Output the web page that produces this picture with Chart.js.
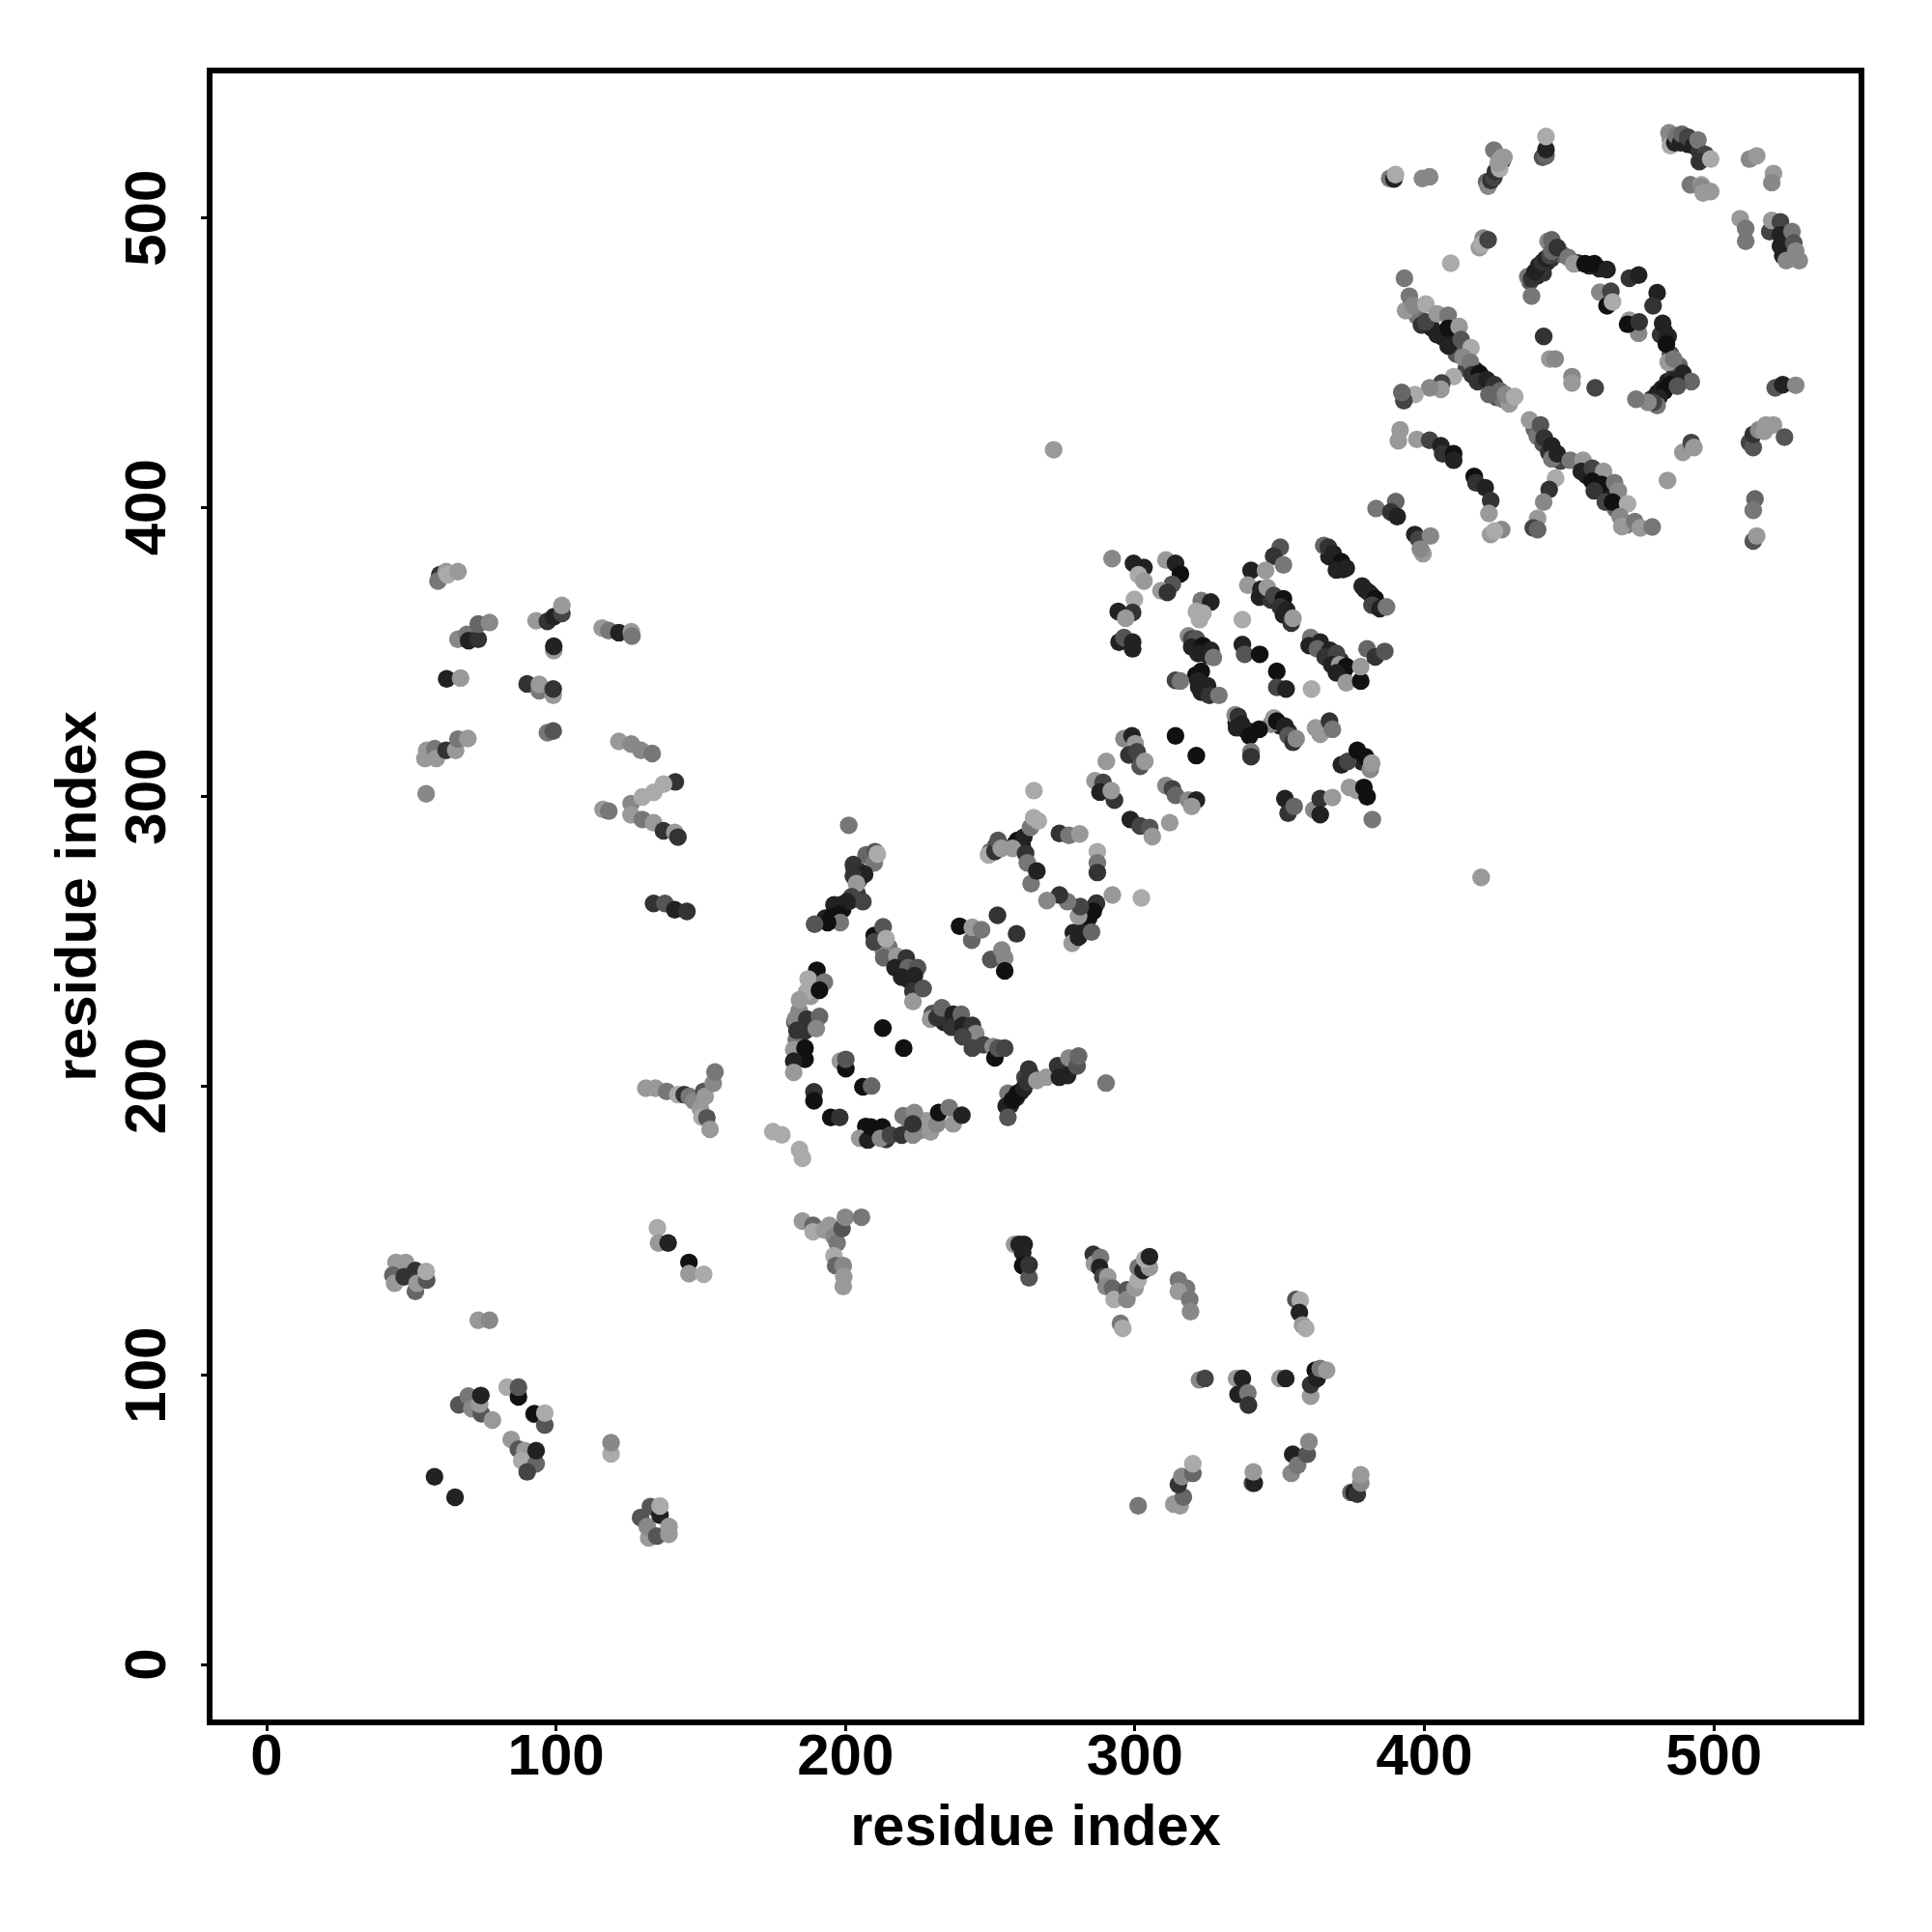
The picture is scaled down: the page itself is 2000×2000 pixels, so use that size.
<!DOCTYPE html>
<html>
<head>
<meta charset="utf-8">
<style>
  html, body { margin: 0; padding: 0; background: #fff; }
  canvas { display: block; }
</style>
<script src="https://cdn.jsdelivr.net/npm/chart.js@4/dist/chart.umd.min.js"></script>
</head>
<body>
<canvas id="contact-map" width="2000" height="2000"></canvas>
<script>
const tickValues = [0, 100, 200, 300, 400, 500];
const axisLabel = 'residue index';

// values, one line per group of contacts
// score runs 0 (weak, light) to 9 (strong, dark)
const resI = [
  482,484,486,488,478.5,480.5,436.5,438.8,440,441.2,442.5,443.8,441,453,457,460.5,447.5,482.8,483.4,485,488,
  397.5,399,402.5,406,410,411,414.5,417.5,420,423,425,427,
  438,439,441,443,447,456,460,463,464,466,470,
  367,370,371.8,379.5,381.8,383.5,
  362,366,368.5,371,372,
  343,347,350,352,
  320,322.5,325,
  322,324,321,
  335,337.5,350,353,347,
  377.5,378.5,
  193,199,201.5,204,203,205,204.5,
  183,182.5,186,184,188,189,
  222,220,224,215,213,
  234,238,241,230,
  259,257,260.5,262,264,276,274.5,
  207,210,214,222,225.5,228,
  261,258.5,283,286,284,282.5,278.7,252,250,
  388,389.5,390,399.3,401.8,
  421.5,422,423,424,424.5,425.5,424,426,427,427,426,425.5,427.5,
  440.8,442,442,442,
  484.5,485,485,486.5,487,488.5,489,491,491,493,495,494.5,497,495,498.9,
  491.9,495.7,495.7,498.9,496.3,
  512.3,514.8,520.6,520,509.1,511,511,
  519.3,520,523,523,527,523,527.6,523.8,525,528.3,529.5,
  420.3,419,419.7,422,409.1,
  437,435.7,437,438.2,439.5,440.8,442,443.3,442.7,444,444,445.9,449.7,451.6,455.5,458.7,463.1,
  470.8,474,460.6,464.4,463.1,465,480.4,479,474,470.8,470.2,474.2,
  481.6,482.3,484.2,483.6,484.2,486.1,489.3,492.2,486.8,484.8,482.9,481,480.4,479.1,477.2,473.1,487.4,
  441.2,443.3,445.2,451,451,459,
  393.1,393.5,394.8,396.1,400.5,400.5,404.4,408.2,404.4,408.2,412,408.2,412.7,416.1,413.3,415.9,416.5,419,418.4,421.6,424.2,422.3,426.1,429.3,428,431.2,
  410.1,406,405.7,401.8,396.7,392.9,392.2,
  391,391.6,397.4,401.8,405.7,406.3,410.1,410.1,
  417.2,417.8,421,422.9,422.3,422.9,426.7,424.2,
  383.3,390.1,388.4,390.6,
  396.7,398,402.1,399.5,398.6,
  436.3,440.1,441.4,444,444,445.9,450.4,454.8,454.2,458,461.9,458,461.2,465.7,458.7,467,462.5,465,470.2,467.6,468.2,472.7,474.6,478.7,
  445.3,443.1,441.2,439.1,437.6,439.1,
  484,489.3,492.2,493.1,
  521.2,523.8,528.3,
  512.3,513.6,513.6,515.5,518,517.4,520.6,524.4,
  514.2,513.6,513.6,514.8,
  350.2,347.9,351.3,340.1,339,345.1,
  343.5,345.7,348,351.3,350.2,352.4,351.3,354,354.6,
  365.2,366.8,368.5,371.3,369.6,373,
  378.5,380.8,383,381.9,384.6,386.9,
  360.7,360.2,364,363,367.4,365.7,369.6,368,370.7,373,369.6,373,378,378,380.2,383,386.3,
  337.1,337.1,337.9,343.1,349,349,352.2,361,
  318.5,319.6,321.2,319.6,323.5,321.8,326.2,327.1,
  322.9,326.2,321.2,323.5,322.3,
  292.1,299.5,303.1,301.2,303.1,310.7,314,315.7,312.9,309,311.2,
  299.8,294.2,299.2,296.8,
  294.5,296.2,299.2,299.2,
  314,315.7,322.9,321.8,325.1,322.9,325.7,329,
  334.6,335.7,336.8,335.1,339,339.6,340.1,340.1,342.9,
  348,349,351.8,352.9,354.6,355.7,362.4,364,367.2,368.2,
  371.3,373.5,376.8,379.6,381.3,381.8,
  374.1,376.8,379.1,380.2,382,
  351.8,352.9,355,361.8,364,364,368.2,
  265.1,312,298.4,301.8,305.1,306,
  296.2,299,300.1,297.9,300.7,301.8,303.4,
  290.1,286.2,289,287.9,292.9,291.8,
  314,321.2,
  310.7,312.9,314,318.5,321.2,319.6,
  302.2,292.2,286.7,285.6,283.9,280.5,281.1,276.7,273.9,269.6,
  278.3,280.5,285,
  287,287,287,
  259.4,260.5,261.6,263.9,265,266.6,
  249.4,251.6,252.7,253.8,
  257.7,262.2,262.8,264.1,266.1,
  273.9,277.2,280.9,
  201.1,
  207.1,210.2,209.9,202.7,206.6,202.7,203.8,202.1,206,200.5,198.2,196,197.7,195.5,198.2,193.8,189.3,211,
  209.9,209.9,213,214,213.2,217.7,221,217.1,221.6,224.9,219.4,223.8,223.3,223.3,226.8,
  229.4,231.6,233.3,237.2,236.6,240,240.5,243.8,245,240.5,243.8,247.7,251,251.6,252.7,255,
  239.4,243.6,243.8,247,252.5,259.1,250.2,254,255,255,
  256.1,255.5,257.7,259.4,261.6,262.8,263.3,266.1,256.1,
  269.4,273.3,273.9,276.7,277.2,280,280.5,290,
  190.1,187.1,186.6,192.7,191,184.1,182.7,186.6,191,189.9,183.2,182.1,186,186,182.1,182.1,
  212.9,220.1,198.2,200.1,200.1,206,209,189.1,189.1,194.9,198,
  204.9,207.7,208.8,212.7,212.1,215.5,219.4,223.3,219.9,223.8,223.3,229.4,231.6,232.2,235.8,237.2,240.2,
  174.9,178,184.1,185.1,
  59.8,59.2,62,62.5,66.1,
  66.1,69.2,69.8,73.1,73.1,77,
  93.1,97,99.2,102,102,99.2,99.2,
  115.9,118.2,121.7,126,126.2,
  62.2,67,90,94.2,94.2,99,99,97,99,
  55.3,54.7,58.1,58.6,62,65.3,66.1,69.5,55.1,
  121.7,126,129.3,133.2,116.2,118.2,
  125.9,125.9,129.8,129.8,133.7,133.7,137.1,141.2,137.1,141,142.1,
  133.7,137.6,141,145.2,
  44.7,48,43.6,44.2,47.5,51.4,51.4,52,55.3,55.1,
  73.1,77,
  66.4,69.7,70.9,74.2,73.6,74,78,
  83.1,87,87,92.3,92.5,96.1,96.1,
  84.5,87,89.2,88.1,93.1,93.1,90,
  58,65.1,119,119,
  129.2,132.6,132,131.5,134.8,135.9,135.9,139,139,
  135,135.4,138.7,145.9,145.9,151,
  131,134.3,138.2,142.1,144.3,146,147.6,149.9,150.4,152.1,153.2,151,151.5,154.3,154.9,
  185.1,188.8,188.8,192.7,194.4,196,197.1,198.8,199.9,205.5,196,196.6,199.2,199.4,199.2,
  258.4,260,261.7,261.2,261.2,263.4,263.4,
  285.6,286,288.1,287.8,288.9,290.6,290,292.2,292.8,297.2,297.2,300,301.1,301.1,302.8,305,303.4,305,
  295,295.8,315,317.8,315,318.9,319.2,
  355.6,357.1,356.8,357.9,359,
  322.3,324.2,335.1,337.1,335.6,339,339.2,350.1,352.1,
  360.7,360.7,362.3,362.9,364,366.2,
  301.1,313.4,315.6,316.7,315,316.2,320,320,
  340.6,341.2,340.9,354,354.5,356.2,359.5,360.1,
  374.6,375.7,376.8,378,378,
  271.9,419.6
];
const resJ = [
  441,443.5,445,447,437.5,439.5,478,480,482,483.5,485,486,481,484.5,483.5,482.5,487.5,461,458,453,449,
  466,463,462,459,457,453,448,447.5,445,441.5,438,437.5,
  427,424.5,422,419,416,411,409,405,403,399.5,394,
  383,380,378.5,371.5,369.5,366.5,
  353,350,347.5,347,343,
  369,368,366.5,363,
  353,350.5,349,
  338,337,342,
  325.5,323.5,324.5,322.5,325,
  314.5,312,
  258,261,264,266.5,275,274,271,
  216,222,219,226,231,236,
  236.5,241,235,248,247,
  222,222,219,225,
  196,193.5,198,203,204,206,205,
  186,184.5,181.5,188,184.5,188,
  283,283.5,260.5,262,258,256,253,283,281,
  513.7,513.5,515,513.7,514.3,
  512.5,511,513,514,516,518,523.5,520,520,521,517,519,521,
  521,521.5,523.7,528.2,
  529.5,527,525,526,528.5,526,529,525.5,528,525,523,527,522,519.5,520.4,
  511.5,511.5,510.9,509.2,508.7,
  520.4,521.5,515.4,512.3,499.8,496.4,492,
  495.3,499.2,498.7,494.2,495.3,490.3,491.4,487,485.3,488.6,485.3,
  493.1,489.8,490.9,492.5,484.4,
  473,479.7,479,481.4,483.6,484.8,486,487,492,492.5,488.6,489.8,486.4,484.2,484.2,484.2,482.2,
  479.2,480.3,474.4,474.7,469.7,471,474.2,469.7,460.2,464.7,463.3,464.1,
  459.7,463.6,459.1,456.4,450.2,451.3,446.3,443.5,444.1,442.4,440.2,438,435.2,436.3,436.3,437.4,441.9,
  459.1,451.3,451.3,445.2,443,441.3,
  479.2,468,473,469.7,470.3,464.1,466.9,466.4,459.7,461.9,462.5,455.8,458,455.2,451.9,450.2,445.8,446.3,443.5,444.1,442.4,439,440.2,435.8,439,438.3,
  445.2,443,440.8,441.3,439,436.9,439.7,
  423,426.8,423.5,423.2,421.3,418.5,418.5,416.3,
  410.7,408.5,406.8,402.3,397.9,390.6,392.3,391.8,
  399.6,402,398.4,396.8,
  390.6,389,390.1,384,385.6,
  430.2,428.5,424,421.3,416.8,418.5,416.3,416.3,412.4,413.5,412.4,409,407.9,408.5,405.7,405.7,401.8,401.8,401.2,396.8,393.4,395.1,392.9,393.2,
  410.1,406.2,401.8,396.2,392.9,392.3,
  409.3,419,422.4,420.7,
  441.3,442.4,442.2,
  422.4,420.7,425.2,426.8,428.5,426.3,428.5,424.3,
  402.9,399,388.4,390.1,
  386.2,383.1,380.1,378.2,373.1,378.2,
  371.7,372.3,369.5,368.4,365.6,364.5,362.8,360,361.7,
  386.8,386.2,384,381.2,378.4,379,
  372.8,370.6,368.4,366.2,365,365.6,
  355,352.2,353.4,351.1,350.6,348.3,349.5,345.6,345.6,345,342.8,339.4,340,345,351.1,348.3,350.2,
  361.2,352.6,349.2,349.2,343.3,337.8,337.2,337.2,
  355.6,354.5,354.5,351.7,352.2,349.5,350.6,348.1,
  367.8,367.3,364,363.4,361.2,
  382.3,380.6,379.2,376.7,374.5,381.8,380.6,377,373.4,371.2,370.6,
  368.2,364,363.7,361.7,
  353.4,355,353.4,351.1,
  340.2,340,343.3,340,338.3,336.1,335,335,
  328.3,327.7,325,323.8,322.7,321,315.5,313.8,323.3,
  327.2,326.1,324.4,321.1,318.8,320,323.8,321.6,326.1,323.3,
  311,312.2,316,313.8,309.4,311.6,
  303.2,302.1,303.2,300,292.1,
  299.3,294.3,296.6,295.5,299.3,293.8,299.7,
  302.1,291,292.1,289.9,289.3,286.2,
  320,321,318.3,314.4,315.5,310.5,312.2,
  312.2,305.5,304.9,301.6,298.8,302.1,
  321,314.2,
  303.8,302.7,300.5,298.8,298.8,296.6,
  265,266,263.2,260.4,258.7,258.7,262,263.7,266,264.1,
  249.3,251.5,253.2,
  281,277.1,273.8,
  284.9,284.3,286,289.4,292.7,291.6,
  279.9,281,284.9,282.1,
  282.1,280.4,277.1,269.9,274.3,
  287.3,286.6,287.1,
  290.1,
  279.9,281,277.1,276.5,273.2,272.6,269.9,265.4,263.7,263.7,262.6,262.6,259.3,258.7,256.5,256.5,255.9,280.2,
  252,249.8,255,250.9,244.3,244.8,244.2,240.9,240.9,240.9,237.6,238.1,232.6,229.2,233.7,
  223.1,223.6,227,224.8,220.3,224.8,220.9,220.9,218.1,217,213.1,214.2,213.6,209.7,213.1,213.1,
  255.2,250.4,254.8,254,259,252.6,243.7,247,244.2,239.8,
  197.5,193,195.2,197.5,199.2,201.4,205.8,201.9,189.1,
  203,207,203,203.6,209.7,206.9,210.3,201,
  240,237,232.6,235.9,233.1,229.8,223.1,223.1,224,219.8,219.2,212.5,213.1,209.2,208.6,204.7,
  220,213.1,208.6,206,209.2,199.7,200,198,194.9,189.1,189.1,
  181.9,181.3,185.8,185.8,181.9,183,183,183,189.7,190.8,186.9,184.1,186.9,190.8,192.5,186.9,189.9,
  184.2,183.1,178,175,
  376.7,374.5,377.8,376.7,377.8,
  354.4,356.1,353.9,354.4,359.7,360.2,
  360.8,360.6,362.2,363.3,366.1,350.5,352,
  358.3,357.4,356.7,357,355.5,
  340.7,341,339,336.6,338.8,335,337.2,322.1,322.7,
  316,313.2,316.6,313.2,316,316,319.9,320.1,301,
  319.1,318.2,316,314.9,295.6,295,
  297.6,293.7,292.1,299.9,291,301.5,288.2,305.1,304.3,287.6,286,
  263.1,263.1,260.9,260.3,
  139,139,134.6,131.8,134,136.2,129,131.8,132.9,135.9,
  119,119,
  89.8,92.8,88.4,86.7,90,93,84.5,
  95.9,92.5,95.9,86.5,86.7,82.8,86.9,
  77.8,74.4,73.9,70.5,69.4,73.9,66.6,
  64.9,57.8,72.8,76.7,
  50.8,54.6,43.8,47.7,44.4,51.6,54.8,47.7,45,
  151,145.7,145.7,139,135.1,134.9,
  199.2,199.2,198.1,197,197,196.4,194.8,192,189.2,189,185,198.1,196.4,200.9,204.8,
  153.3,151.8,149.6,150.2,151.8,148,145.7,150.7,154.6,154.6,141.3,137.9,137.9,134,130.7,
  145.2,145.2,145.2,142.4,137.9,133.7,138.2,
  141.8,138.5,140.7,137.3,134,134,130.7,130.1,126.2,129.5,126.2,130.1,132.9,137.3,136.2,137.3,140.1,141,
  117.9,116.2,132.9,130.1,129,126.2,122,
  126.2,125.9,121.7,117.3,116.2,
  98.4,98.9,98.9,98.9,93.4,93.9,89.7,98.9,98.9,
  92.8,96.7,101.7,98.9,102.3,101.7,
  54.9,55.5,54.9,57.9,62.2,65,66.1,69.4,
  62.7,62.7,66.6,66.1,72.7,68.9,72.7,77,
  59.5,59.5,58.9,62.8,65.6,
  419.9,272.1
];
const score = [
  8,8,7,7,7,8,5,8,9,8,8,7,7,7,8,8,4,8,9,5,4,
  3,7,8,8,8,5,6,8,8,7,5,3,
  4,3,5,7,6,8,8,8,8,4,3,
  8,9,8,8,8,8,
  7,8,8,7,8,
  8,7,8,8,
  7,9,8,
  8,8,9,
  8,9,8,7,2,
  9,8,
  8,9,8,7,8,7,7,
  3,5,7,2,1,8,
  8,8,7,3,2,
  8,8,8,5,
  8,8,8,6,5,7,8,
  9,8,7,4,2,1,
  9,9,9,8,8,8,8,7,4,
  3,8,0,2,2,
  4,2,7,6,7,6,3,1,7,0,0,1,1,
  5,4,8,0,
  2,2,0,8,3,8,4,8,6,8,7,3,6,7,0,
  3,0,2,1,1,
  2,1,1,2,1,3,3,
  6,1,6,8,3,8,5,8,2,2,2,
  2,1,0,6,0,
  3,3,7,8,8,7,8,6,2,4,4,7,3,1,9,9,8,
  7,8,2,6,9,0,8,7,2,1,9,7,
  7,8,8,9,1,3,8,4,8,9,9,8,3,6,2,3,5,
  7,1,2,2,1,6,
  3,1,3,2,0,6,1,3,8,9,1,8,5,0,2,3,7,9,7,8,7,4,4,1,2,0,
  0,6,1,2,0,6,4,
  1,1,1,6,8,7,9,8,
  9,7,8,7,1,1,2,0,
  3,4,7,8,
  8,6,2,1,2,
  1,5,7,8,3,8,3,1,8,6,1,9,9,3,7,2,6,9,0,2,1,3,1,3,
  0,7,2,1,6,4,
  1,1,6,1,
  5,8,2,
  6,5,7,2,1,1,1,5,
  4,3,5,1,
  5,7,3,8,1,1,
  8,1,6,9,7,8,8,7,1,
  4,7,8,9,8,8,
  8,8,9,6,8,3,
  3,8,8,4,8,7,6,8,1,9,8,1,9,1,4,7,5,
  0,8,5,9,9,6,8,0,
  2,6,5,8,9,8,8,3,
  3,8,0,0,0,
  2,8,8,0,1,1,8,9,5,1,7,
  0,8,7,1,
  8,5,8,8,
  6,3,9,8,8,8,7,3,
  2,7,8,8,8,9,3,7,9,
  1,9,8,5,7,2,1,1,7,3,
  8,6,9,9,2,1,
  1,1,9,9,3,
  8,7,4,2,7,8,1,
  0,1,8,6,5,1,
  2,8,1,7,6,5,1,
  1,1,6,8,7,1,
  9,9,
  2,6,4,2,8,1,
  0,1,7,9,9,1,6,3,7,2,
  1,8,4,
  0,3,7,
  9,9,8,3,0,0,
  0,7,5,1,
  1,7,3,3,8,
  7,3,1,
  3,
  4,5,3,7,8,7,1,6,6,8,8,8,9,9,3,9,5,0,
  9,6,5,0,4,1,7,8,4,5,8,8,7,1,5,
  1,7,4,8,7,4,8,7,2,6,6,6,2,9,5,6,
  9,4,1,3,7,7,5,2,2,9,
  3,8,9,9,8,7,7,1,5,
  1,7,8,8,2,5,4,3,
  9,0,0,3,9,1,2,7,4,2,7,1,9,9,8,1,
  9,9,1,9,5,9,4,7,9,9,7,
  1,8,9,9,2,6,7,2,3,2,7,1,2,9,3,1,8,
  0,0,0,0,
  7,3,1,0,1,
  2,3,8,7,4,2,
  1,7,8,6,1,1,8,
  1,3,8,1,3,
  8,1,7,3,1,1,7,3,5,
  1,1,3,1,7,1,3,1,2,
  1,2,2,3,1,3,
  2,1,3,0,1,0,7,7,0,1,7,
  7,5,8,7,
  1,1,4,1,7,7,4,1,5,0,
  1,2,
  5,3,2,5,1,8,1,
  0,9,5,1,9,5,0,
  1,5,1,0,4,8,6,
  8,8,0,2,
  5,5,1,2,5,8,0,1,1,
  0,1,8,9,1,0,
  1,1,3,0,7,3,2,1,0,5,1,5,1,2,3,
  1,4,0,1,1,2,3,5,2,3,0,4,2,1,1,
  1,8,8,8,9,5,7,
  7,1,3,8,6,1,2,4,0,5,2,1,0,3,8,1,0,8,
  3,0,3,3,1,3,2,
  5,0,8,1,0,
  2,6,1,8,8,3,7,1,8,
  1,7,9,8,3,1,
  3,1,1,4,7,2,4,0,
  5,8,1,2,8,3,5,2,
  4,8,7,2,1,
  1,1
];

const points = resI.map((x, i) => ({ x: x, y: resJ[i] }));

function shadeFor(s) {
  const g = 170 - s * 17;
  return 'rgb(' + g + ',' + g + ',' + g + ')';
}

// box around the plot area, thick like the original
const frame = {
  id: 'frame',
  afterDatasetsDraw(chart) {
    const a = chart.chartArea;
    const c = chart.ctx;
    c.save();
    c.strokeStyle = '#000';
    c.lineWidth = 6;
    c.strokeRect(a.left, a.top, a.width, a.height);
    c.restore();
  }
};

const tickFont = { family: '"Liberation Sans", Arial, sans-serif', size: 60, weight: 'bold' };
const titleFont = { family: '"Liberation Sans", Arial, sans-serif', size: 59.5, weight: 'bold' };

function useTicks(axis) {
  axis.ticks = tickValues.map(v => ({ value: v }));
}

const ctx = document.getElementById('contact-map').getContext('2d');
new Chart(ctx, {
  type: 'scatter',
  data: {
    datasets: [{
      label: axisLabel,
      data: points,
      pointRadius: 9.2,
      pointBorderWidth: 0,
      pointBackgroundColor: score.map(shadeFor)
    }]
  },
  options: {
    responsive: false,
    animation: false,
    devicePixelRatio: 1,
    layout: { padding: { top: 73, right: 73, left: 0, bottom: 0 } },
    plugins: { legend: { display: false }, tooltip: { enabled: false } },
    scales: {
      x: {
        type: 'linear',
        min: -19.7,
        max: 551,
        afterBuildTicks: useTicks,
        afterFit(s) { s.height = 217; },
        border: { display: false },
        grid: { drawOnChartArea: false, tickLength: 9, tickWidth: 3, tickColor: '#000' },
        ticks: { color: '#000', font: tickFont, padding: -8, maxRotation: 0, autoSkip: false },
        title: { display: true, text: axisLabel, color: '#000', font: titleFont, padding: { top: 0, bottom: 71 } }
      },
      y: {
        type: 'linear',
        min: -20,
        max: 551,
        afterBuildTicks: useTicks,
        afterFit(s) { s.width = 217; },
        border: { display: false },
        grid: { drawOnChartArea: false, tickLength: 9, tickWidth: 3, tickColor: '#000' },
        ticks: { color: '#000', font: tickFont, padding: 3, minRotation: 90, maxRotation: 90, crossAlign: 'center', autoSkip: false },
        title: { display: true, text: axisLabel, color: '#000', font: titleFont, padding: { top: 47, bottom: 0 } }
      }
    }
  },
  plugins: [frame]
});
</script>
</body>
</html>
